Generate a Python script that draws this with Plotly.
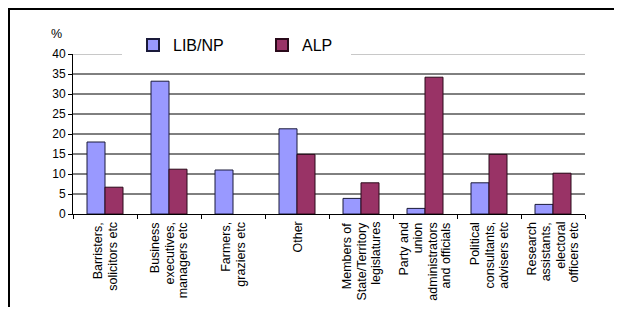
import plotly.graph_objects as go

categories = [
    "Barristers,<br>solicitors etc",
    "Business<br>executives,<br>managers etc",
    "Farmers,<br>graziers etc",
    "Other",
    "Members of<br>State/Territory<br>legislatures",
    "Party and<br>union<br>administrators<br>and officials",
    "Political<br>consultants,<br>advisers etc",
    "Research<br>assistants,<br>electoral<br>officers etc",
]
lib_np = [18.0, 33.2, 11.0, 21.3, 3.9, 1.4, 7.8, 2.4]
alp = [6.7, 11.2, 0.0, 14.9, 7.8, 34.2, 14.9, 10.2]
y_ticks = [0, 5, 10, 15, 20, 25, 30, 35, 40]

FONT = "Arial, Liberation Sans, sans-serif"
OFF = 8  # page body margin
W, H = 622 - 2 * OFF, 315 - 2 * OFF
# plot area in screen pixels: x 73..585, y 54..214
SX0, SX1, SY0, SY1 = 73, 585, 54, 214
ML, MT = SX0 - OFF, SY0 - OFF
MR, MB = W - (SX1 - OFF), H - (SY1 - OFF)
PW, PH = SX1 - SX0, SY1 - SY0

def px_x(p):
    return (p - SX0) / PW

def px_y(p):
    return (SY1 - p) / PH

fig = go.Figure()
fig.add_trace(go.Bar(name="LIB/NP", x=categories, y=lib_np,
                     marker=dict(color="#9999FF",
                                 line=dict(color="#1a1a3a", width=[1 if v > 0 else 0 for v in lib_np]))))
fig.add_trace(go.Bar(name="ALP", x=categories, y=alp,
                     marker=dict(color="#993366",
                                 line=dict(color="#2a0a1a", width=[1 if v > 0 else 0 for v in alp]))))

shapes = []
for v in y_ticks[1:-1]:
    shapes.append(dict(type="line", xref="paper", yref="y", x0=0, x1=1, y0=v, y1=v,
                       line=dict(color="black", width=1), layer="below"))
# top gridline (gray), interrupted by the legend
shapes.append(dict(type="line", xref="paper", yref="y", x0=0, x1=px_x(122), y0=40, y1=40,
                   line=dict(color="#c8c8c8", width=2), layer="below"))
shapes.append(dict(type="line", xref="paper", yref="y", x0=px_x(351), x1=1, y0=40, y1=40,
                   line=dict(color="#c8c8c8", width=2), layer="below"))
# outer frame
shapes.append(dict(type="rect", xref="paper", yref="paper",
                   x0=px_x(9), x1=px_x(660), y0=px_y(360), y1=px_y(9),
                   line=dict(color="black", width=2), fillcolor="rgba(0,0,0,0)", layer="above"))

annotations = [dict(text="%", xref="paper", yref="paper", x=px_x(56), y=px_y(34),
                    xanchor="center", yanchor="middle",
                    showarrow=False, font=dict(family=FONT, size=12.5, color="black"))]
LINE_SP = 14.3
for cat in categories:
    lines = cat.split("<br>")
    n = len(lines)
    for j, ln in enumerate(lines):
        annotations.append(dict(
            text=ln, x=cat, xref="x", y=0, yref="paper", yanchor="top", xanchor="center",
            textangle=-90, showarrow=False, xshift=(j - (n - 1) / 2) * LINE_SP, yshift=-7,
            font=dict(family=FONT, size=12.5, color="black"), borderpad=0))

fig.update_layout(
    width=W, height=H, autosize=False,
    margin=dict(l=ML, r=MR, t=MT, b=MB),
    paper_bgcolor="white", plot_bgcolor="white",
    barmode="group", bargap=0.4375, bargroupgap=0,
    font=dict(family=FONT, size=12, color="black"),
    showlegend=True,
    legend=dict(orientation="h", x=px_x(133), y=px_y(45), xanchor="left", yanchor="middle",
                bgcolor="rgba(0,0,0,0)", font=dict(family=FONT, size=16, color="black"),
                entrywidth=84, entrywidthmode="pixels", itemsizing="constant"),
    shapes=shapes,
    annotations=annotations,
    xaxis=dict(type="category", showticklabels=False, ticks="outside", tickson="boundaries",
               ticklen=4, tickcolor="black", showline=True, linecolor="black", linewidth=1,
               showgrid=False, zeroline=False, fixedrange=True),
    yaxis=dict(range=[0, 40], tickvals=y_ticks, ticks="outside", ticklen=4, tickcolor="black",
               showline=True, linecolor="black", linewidth=1, showgrid=False, zeroline=False,
               tickfont=dict(family=FONT, size=12, color="black"), fixedrange=True),
)

fig.write_html("out.html")
